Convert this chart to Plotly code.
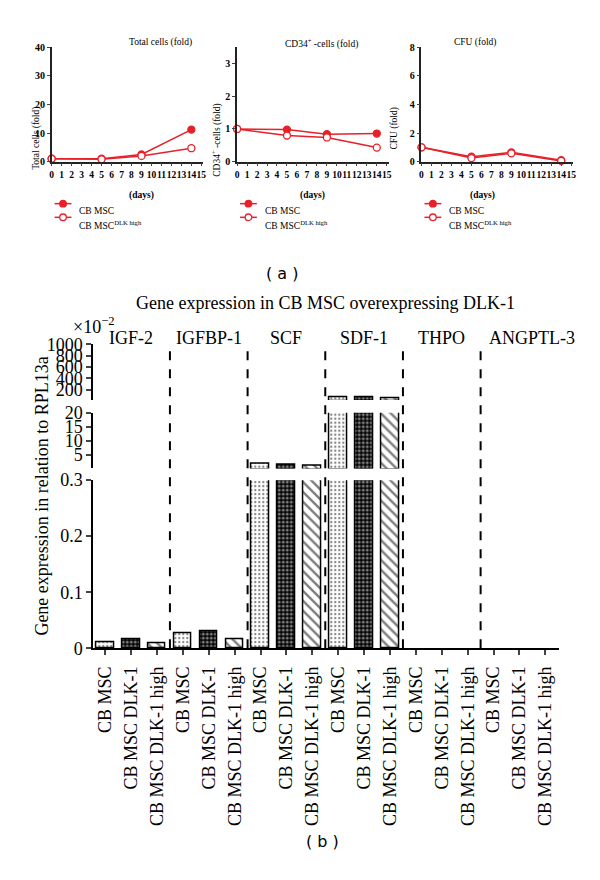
import plotly.graph_objects as go

# ---------------- data: panel (a) ----------------
days = [0, 5, 9, 14]
total_cb_msc = [1.0, 1.0, 2.5, 11.2]
total_dlk_high = [1.0, 0.8, 2.0, 4.7]
cd34_cb_msc = [1.0, 0.98, 0.84, 0.86]
cd34_dlk_high = [1.0, 0.80, 0.74, 0.43]
cfu_cb_msc = [1.0, 0.35, 0.65, 0.10]
cfu_dlk_high = [1.0, 0.25, 0.58, 0.05]
series_names = ["CB MSC", "CB MSC<sup>DLK high</sup>"]

# ---------------- data: panel (b) ----------------
genes = ["IGF-2", "IGFBP-1", "SCF", "SDF-1", "THPO", "ANGPTL-3"]
conditions = ["CB MSC", "CB MSC DLK-1", "CB MSC DLK-1 high"]
expr_cb_msc = [0.010, 0.026, 1.8, 60, 0, 0]
expr_dlk1 = [0.016, 0.030, 1.6, 62, 0, 0]
expr_dlk1_high = [0.009, 0.017, 1.3, 58, 0, 0]

# page body has an 8px margin -> shift everything
OFF = 8
W, H = 600 - OFF, 880 - OFF
def px(x):
    return (x - OFF) / W
def py(y):
    return 1 - (y - OFF) / H

RED = "#e8202a"
SERIF = "Liberation Serif"
fig = go.Figure()
shapes = []

# ---------------- panel (a) ----------------
panels = [
    ("Total cells (fold)", total_cb_msc, total_dlk_high, [50, 203], [0, 40], [0, 10, 20, 30, 40], 126, 27, 97),
    ("CD34<sup>+</sup> -cells (fold)", cd34_cb_msc, cd34_dlk_high, [237, 390], [0, 3.5], [0, 1, 2, 3], 322, 216, 94),
    ("CFU (fold)", cfu_cb_msc, cfu_dlk_high, [423, 576], [0, 8], [0, 2, 4, 6, 8], 501, 403, 97),
]
tickbold = dict(family=SERIF, size=10, color="black", weight="bold")
for i, (title, s1, s2, xd, yr, ytv, tx, ytx, yty) in enumerate(panels):
    n = "" if i == 0 else str(i + 1)
    for s, fill in ((s1, RED), (s2, "white")):
        fig.add_trace(go.Scatter(x=days, y=s, mode="lines+markers", showlegend=False,
                                 xaxis="x" + n, yaxis="y" + n, cliponaxis=False,
                                 line=dict(color=RED, width=1.5),
                                 marker=dict(symbol="circle", size=7, color=fill,
                                             line=dict(color=RED, width=1.3))))
    fig.layout["xaxis" + n] = dict(domain=[px(xd[0]), px(xd[1])], range=[0, 15.2], anchor="y" + n,
                                   tickvals=list(range(16)), tickangle=0, ticks="outside", ticklen=3,
                                   tickwidth=1.2, showline=True, linecolor="#222", linewidth=1.5,
                                   showgrid=False, zeroline=False, fixedrange=True,
                                   tickfont=dict(family=SERIF, size=9.5, color="black", weight="bold"))
    fig.layout["yaxis" + n] = dict(domain=[py(155), py(38)], range=yr, anchor="x" + n,
                                   tickvals=ytv, ticks="outside", ticklen=3, tickwidth=1.2,
                                   showline=True, linecolor="#222", linewidth=1.5, showgrid=False,
                                   zeroline=False, fixedrange=True, tickfont=tickbold)
    fig.add_annotation(text=title, x=px(tx), y=py(25), xref="paper", yref="paper", showarrow=False,
                       font=dict(family=SERIF, size=9.5, color="black"))
    fig.add_annotation(text=title, x=px(ytx), y=py(yty), xref="paper", yref="paper", showarrow=False,
                       textangle=-90, font=dict(family=SERIF, size=9.5, color="black"))
    fig.add_annotation(text="(days)", x=px((xd[0] + xd[1]) / 2), y=py(182), xref="paper", yref="paper",
                       showarrow=False, font=dict(family=SERIF, size=9.5, color="black", weight="bold"))
    # manual legend
    lx = xd[0] + 3
    for k, (nm, fill) in enumerate(zip(series_names, (RED, "white"))):
        ly = 198 + 14 * k
        shapes.append(dict(type="line", xref="paper", yref="paper", x0=px(lx), x1=px(lx + 17),
                           y0=py(ly), y1=py(ly), line=dict(color=RED, width=1.5)))
        shapes.append(dict(type="circle", xref="paper", yref="paper", xsizemode="pixel",
                           ysizemode="pixel", xanchor=px(lx + 8.5), yanchor=py(ly),
                           x0=-3.3, x1=3.3, y0=-3.3, y1=3.3, fillcolor=fill,
                           line=dict(color=RED, width=1.3)))
        fig.add_annotation(text=nm, x=px(lx + 23), y=py(ly), xref="paper", yref="paper",
                           xanchor="left", showarrow=False,
                           font=dict(family=SERIF, size=9.5, color="black"))

fig.add_annotation(text="( a )", x=px(282), y=py(258), xref="paper", yref="paper", showarrow=False,
                   font=dict(family="DejaVu Sans", size=16, color="black"))

# ---------------- panel (b) ----------------
patterns = [
    dict(shape=".", fgcolor="black", bgcolor="white", size=4, solidity=0.25),
    dict(shape=".", fgcolor="white", bgcolor="black", size=4, solidity=0.45),
    dict(shape="\\", fgcolor="black", bgcolor="white", size=7, solidity=0.35),
]
series_b = [expr_cb_msc, expr_dlk1, expr_dlk1_high]
segments = [
    ("y4", [481, 653], [0, 0.3], [0, 0.1, 0.2, 0.3], ["0", "0.1", "0.2", "0.3"]),
    ("y5", [412, 469], [0.3, 20], [5, 10, 15, 20], ["5", "10", "15", "20"]),
    ("y6", [342, 399], [20, 1000], [200, 400, 600, 800, 1000], ["200", "400", "600", "800", "1000"]),
]
for yname, dom, rng, tv, tt in segments:
    for c, vals in enumerate(series_b):
        xs = [3 * g + c for g in range(len(genes))]
        ys = [v if v > rng[0] else None for v in vals]
        fig.add_trace(go.Bar(x=xs, y=ys, xaxis="x4", yaxis=yname, width=0.68, showlegend=False,
                             name=conditions[c],
                             marker=dict(color="white", line=dict(color="black", width=1.5),
                                         pattern=patterns[c])))
    fig.layout["yaxis" + yname[1:]] = dict(domain=[py(dom[1]), py(dom[0])], range=rng, anchor="x4",
                                           tickvals=tv, ticktext=tt, ticks="outside", ticklen=5, tickwidth=2,
                                           showline=True, linecolor="black", linewidth=2, showgrid=False,
                                           zeroline=False, fixedrange=True,
                                           tickfont=dict(family=SERIF, size=18, color="black"))

tick_x = list(range(len(genes) * len(conditions)))
tick_text = [c for g in genes for c in conditions]
fig.layout.xaxis4 = dict(domain=[px(92), px(562)], range=[-0.46, 17.54], anchor="y4",
                         tickvals=tick_x, ticktext=tick_text, tickangle=-90, ticks="outside",
                         ticklen=5, tickwidth=2, showline=True, linecolor="black", linewidth=2,
                         showgrid=False, zeroline=False, fixedrange=True, ticklabelstandoff=4,
                         tickfont=dict(family=SERIF, size=18, color="black"))

for g in range(1, len(genes)):
    xpos = 3 * g - 0.5
    shapes.append(dict(type="line", xref="x4", yref="paper", x0=xpos, x1=xpos, y0=py(653), y1=py(348),
                       line=dict(color="black", width=2, dash="dash")))

for g, name in enumerate(genes):
    xc = 3 * g + 1 + (0.5 if name == "ANGPTL-3" else 0)
    fig.add_annotation(text=name, x=xc, xref="x4", y=py(335), yref="paper", showarrow=False,
                       font=dict(family=SERIF, size=18, color="black"))

fig.add_annotation(text="Gene expression in CB MSC overexpressing DLK-1", x=px(326), y=py(300),
                   xref="paper", yref="paper", showarrow=False,
                   font=dict(family=SERIF, size=18, color="black"))
fig.add_annotation(text="×10<sup>−2</sup>", x=px(70), y=py(323), xref="paper", yref="paper",
                   showarrow=False, font=dict(family=SERIF, size=18, color="black"))
fig.add_annotation(text="Gene expression in relation to RPL13a", x=px(28), y=py(497), xref="paper",
                   yref="paper", showarrow=False, textangle=-90,
                   font=dict(family=SERIF, size=18, color="black"))
fig.add_annotation(text="( b )", x=px(323), y=py(863), xref="paper", yref="paper", showarrow=False,
                   font=dict(family="DejaVu Sans", size=16, color="black"))

fig.update_layout(width=W, height=H, margin=dict(l=0, r=0, t=0, b=0), plot_bgcolor="white",
                  paper_bgcolor="white", barmode="overlay", bargap=0, shapes=shapes,
                  font=dict(family=SERIF, color="black"))
fig.write_html("out.html")
